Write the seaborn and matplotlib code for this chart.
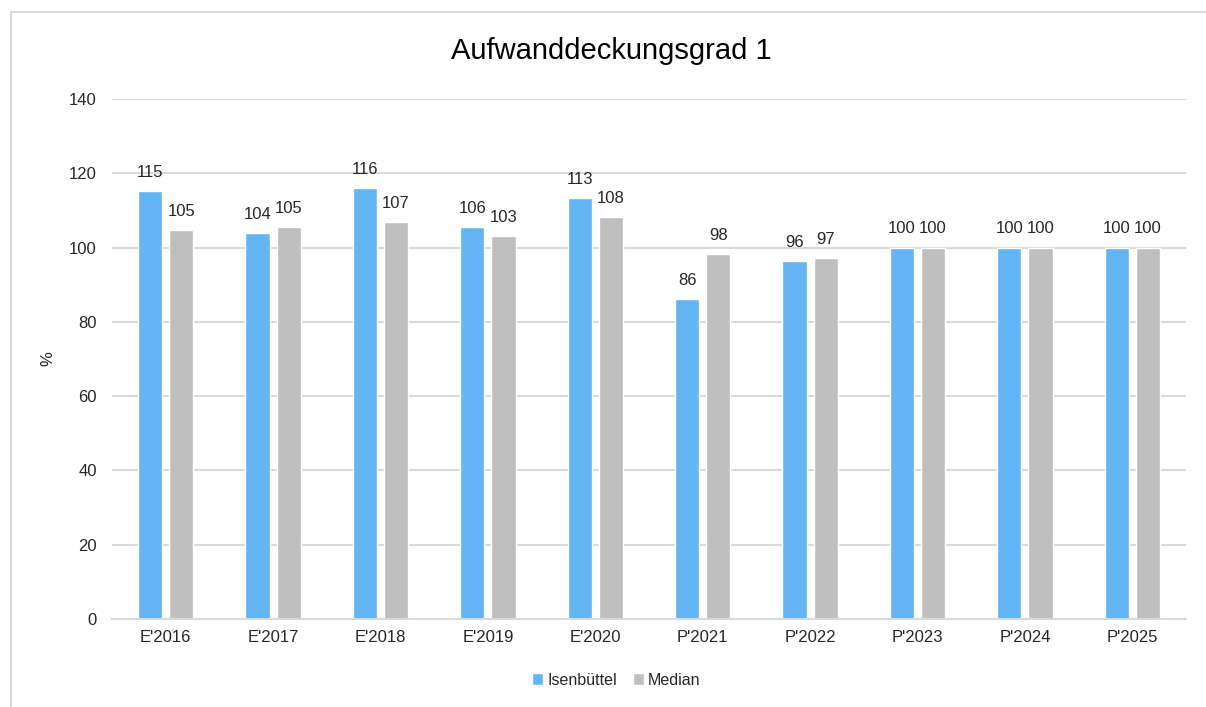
import pandas as pd
import seaborn as sns
import matplotlib.pyplot as plt
from matplotlib.patches import Rectangle

sns.set_theme(style="white")
plt.rcParams['font.family'] = ['Liberation Sans', 'DejaVu Sans']

# data
years = ["E'2016", "E'2017", "E'2018", "E'2019", "E'2020",
         "P'2021", "P'2022", "P'2023", "P'2024", "P'2025"]
isenbuettel = [115.3, 103.8, 116.0, 105.6, 113.4, 86.2, 96.4, 100.0, 100.0, 100.0]
median = [104.7, 105.4, 106.9, 103.0, 108.2, 98.3, 97.2, 100.0, 100.0, 100.0]
series = ["Isenbüttel", "Median"]

df = pd.DataFrame({
    'Jahr': years * 2,
    'Wert': isenbuettel + median,
    'Reihe': [series[0]] * len(years) + [series[1]] * len(years),
})

text_col = '#262626'
grid_col = '#D9D9D9'

fig = plt.figure(figsize=(12.06, 7.07), dpi=100)
ax = fig.add_axes([0.0929, 0.1245, 0.8905, 0.7355])

b = sns.barplot(data=df, x='Jahr', y='Wert', hue='Reihe', ax=ax,
                palette=['#63B5F3', '#BFBFBF'], width=0.58, gap=0.22,
                saturation=1, errorbar=None)

for cont in ax.containers:
    ax.bar_label(cont, fmt='%.0f', padding=8, fontsize=12, color=text_col)

ax.set_ylim(0, 140)
ax.set_yticks(range(0, 141, 20))
ax.set_xlim(-0.5, len(years) - 0.5)
ax.yaxis.grid(True, color=grid_col, linewidth=1.5)
ax.set_axisbelow(True)
for s in ['top', 'right', 'left']:
    ax.spines[s].set_visible(False)
ax.spines['bottom'].set_color(grid_col)
ax.spines['bottom'].set_linewidth(1.5)
ax.tick_params(axis='both', length=0, labelsize=12, colors=text_col)
ax.tick_params(axis='y', pad=11)
ax.tick_params(axis='x', pad=8)
ax.set_xlabel('')
ax.set_ylabel('%', fontsize=12, color=text_col)
ax.yaxis.set_label_coords(-0.053, 0.5)

fig.text(0.507, 0.928, 'Aufwanddeckungsgrad 1', ha='center', va='center',
         fontsize=21, color='black')

ax.get_legend().remove()
handles, labels = ax.get_legend_handles_labels()
fig.legend(handles, labels, loc='center', bbox_to_anchor=(0.511, 0.038), ncol=2,
           frameon=False, handlelength=0.7, handleheight=0.7, handletextpad=0.25,
           columnspacing=1.0, fontsize=11.5, labelcolor=text_col)

# light chart frame
fig.patches.append(Rectangle((11 / 1206, -0.05), 1.1, 1 - 12 / 707 + 0.05,
                             transform=fig.transFigure, fill=False,
                             edgecolor=grid_col, linewidth=1.5))

fig.savefig('out.png', dpi=100)
